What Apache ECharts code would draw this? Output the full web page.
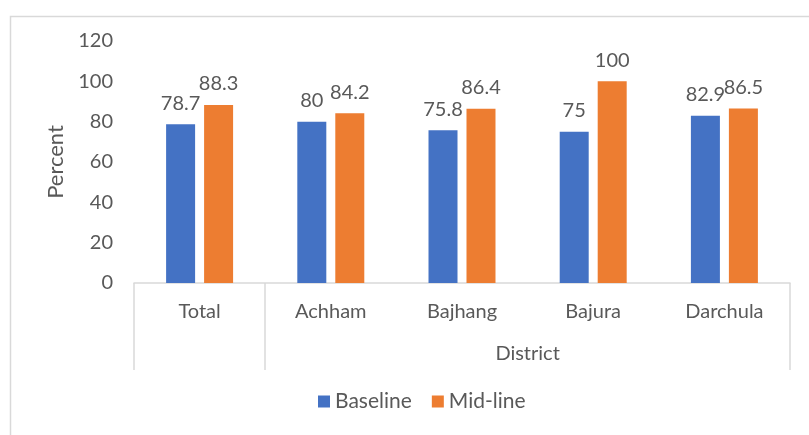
<!DOCTYPE html>
<html>
<head>
<meta charset="utf-8">
<script src="https://cdn.jsdelivr.net/npm/echarts@6/dist/echarts.min.js"></script>
<style>
  html, body { margin: 0; padding: 0; background: #fff; }
  #chart { width: 809px; height: 435px; }
</style>
</head>
<body>
<div id="chart"></div>
<script>
// Coverage by area, baseline vs mid-line survey
const categories = ['Total', 'Achham', 'Bajhang', 'Bajura', 'Darchula'];
const baseline = [78.7, 80, 75.8, 75, 82.9];
const midline = [88.3, 84.2, 86.4, 100, 86.5];
const seriesNames = ['Baseline', 'Mid-line'];
// Second-level category groups: label and number of categories spanned
const groupNames = ['', 'District'];
const groupSpans = [1, 4];

const FONT = 'Lato, "Open Sans", sans-serif';
const TEXT = '#595959';
const LINE = '#d9d9d9';

// Boundaries of the groups (category indices where a group starts)
const groupStarts = [];
groupSpans.reduce((acc, s) => { groupStarts.push(acc); return acc + s; }, 0);
// Position of each group label, in band units along the axis
const groupCentres = groupSpans.map((s, i) => groupStarts[i] + s / 2);

const chart = echarts.init(document.getElementById('chart'), null, { renderer: 'canvas' });

chart.setOption({
  animation: false,
  textStyle: { fontFamily: FONT },
  grid: { left: 134, right: 19, top: 41, bottom: 152, containLabel: false },
  legend: {
    data: seriesNames,
    bottom: 18,
    left: 313,
    icon: 'rect',
    itemWidth: 12,
    itemHeight: 12,
    itemGap: 20,
    textStyle: { color: TEXT, fontSize: 21, fontFamily: FONT }
  },
  xAxis: [
    {
      type: 'category',
      data: categories,
      axisLine: { show: true, lineStyle: { color: LINE, width: 1.5 } },
      axisTick: { show: false },
      axisLabel: { color: TEXT, fontSize: 20, margin: 19, fontFamily: FONT }
    },
    {
      // group boundary lines of the two-level category axis
      type: 'category',
      data: categories,
      position: 'bottom',
      axisLine: { show: false },
      axisTick: {
        show: true,
        length: 87,
        interval: (index) => groupStarts.indexOf(index) !== -1,
        lineStyle: { color: LINE, width: 1.5 }
      },
      axisLabel: { show: false }
    },
    {
      // group names of the two-level category axis
      type: 'value',
      position: 'bottom',
      min: 0,
      max: categories.length,
      interval: 0.5,
      axisLine: { show: false },
      axisTick: { show: false },
      splitLine: { show: false },
      axisLabel: {
        show: true,
        showMinLabel: true,
        showMaxLabel: true,
        color: TEXT,
        fontSize: 20,
        fontFamily: FONT,
        margin: 61,
        formatter: (v) => {
          const i = groupCentres.indexOf(v);
          return i === -1 ? '' : groupNames[i];
        }
      }
    }
  ],
  yAxis: {
    type: 'value',
    min: 0,
    max: 120,
    interval: 20,
    name: 'Percent',
    nameLocation: 'middle',
    nameGap: 57,
    nameTextStyle: { color: TEXT, fontSize: 22, fontFamily: FONT },
    axisLine: { show: false },
    axisTick: { show: false },
    splitLine: { show: false },
    axisLabel: { color: TEXT, fontSize: 20, margin: 21, fontFamily: FONT }
  },
  series: [
    {
      name: seriesNames[0],
      type: 'bar',
      data: baseline,
      barWidth: 29,
      barGap: '31%',
      itemStyle: { color: '#4472C4' },
      label: { show: true, position: 'top', distance: 11, color: TEXT, fontSize: 20, fontFamily: FONT }
    },
    {
      name: seriesNames[1],
      type: 'bar',
      data: midline,
      barWidth: 29,
      itemStyle: { color: '#ED7D31' },
      label: { show: true, position: 'top', distance: 11, color: TEXT, fontSize: 20, fontFamily: FONT }
    }
  ],
  graphic: [
    {
      // chart frame
      type: 'rect',
      left: 8,
      top: 14,
      shape: { width: 900, height: 600 },
      style: { fill: 'none', stroke: LINE, lineWidth: 1.5 },
      silent: true
    }
  ]
});
</script>
</body>
</html>
